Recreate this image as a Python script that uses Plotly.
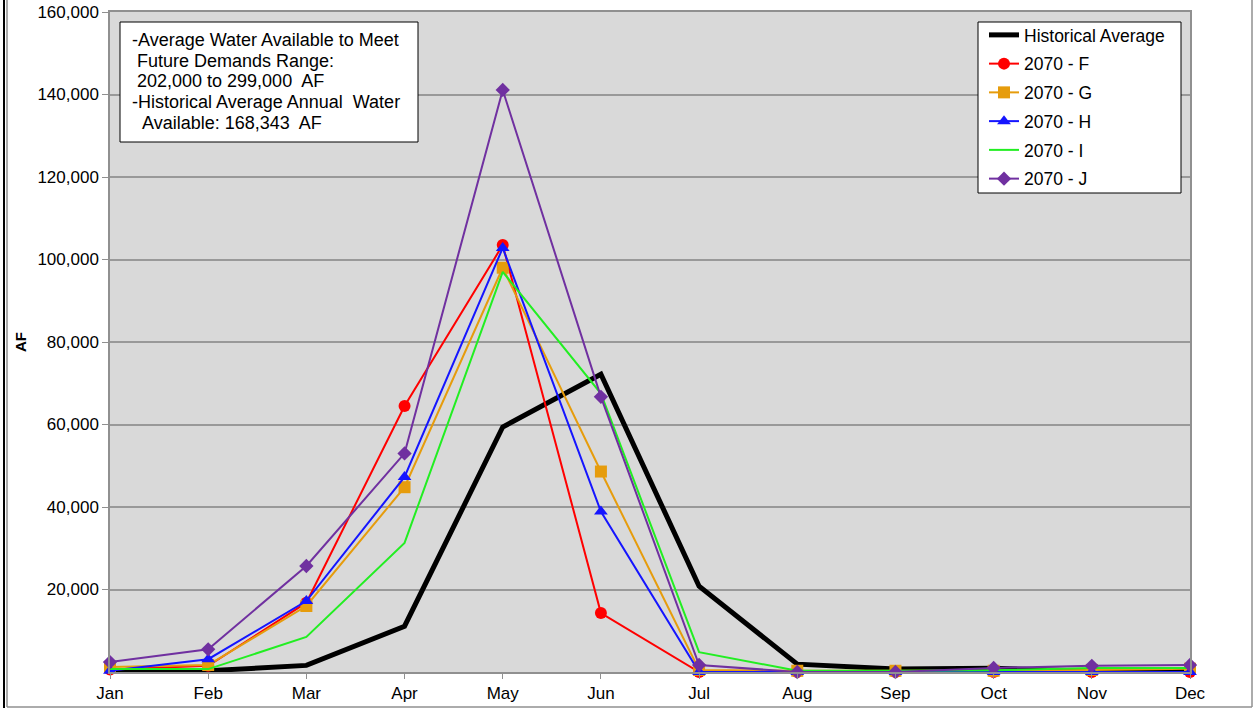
import plotly.graph_objects as go

months = ["Jan", "Feb", "Mar", "Apr", "May", "Jun", "Jul", "Aug", "Sep", "Oct", "Nov", "Dec"]
historical = [200, 300, 1600, 11100, 59400, 72200, 20800, 1900, 700, 900, 200, 200]
f_2070 = [600, 1500, 16800, 64500, 103500, 14300, 0, 0, 0, 0, 0, 0]
g_2070 = [1200, 1700, 16000, 44800, 98000, 48600, 500, 300, 300, 300, 500, 800]
h_2070 = [300, 3100, 17200, 47300, 102800, 38900, 0, 0, 0, 0, 0, 0]
i_2070 = [700, 700, 8500, 31300, 97000, 67500, 4800, 300, 300, 400, 1000, 1000]
j_2070 = [2400, 5500, 25700, 53000, 141100, 66700, 1700, 0, 0, 1000, 1500, 1700]
y_ticks = [20000, 40000, 60000, 80000, 100000, 120000, 140000, 160000]
y_tick_text = [f"{v:,}" for v in y_ticks]

note_lines = [
    "-Average Water Available to Meet",
    "\u00a0Future Demands Range:",
    "\u00a0202,000 to 299,000\u00a0 AF",
    "-Historical Average Annual\u00a0 Water",
    "\u00a0\u00a0Available: 168,343\u00a0 AF",
]

FONT = "Liberation Sans, Arial, sans-serif"

# plot area in window pixels: x 110..1190, y 12..672
def px_x(px):
    return (px - 110) / 1080

def px_y(py):
    return 1 - (py - 12) / 660

fig = go.Figure()
series = [
    ("Historical Average", historical, "black", 5, None, 0),
    ("2070 - F", f_2070, "#ff0000", 2, "circle", 12),
    ("2070 - G", g_2070, "#e69c0c", 2, "square", 12),
    ("2070 - H", h_2070, "#1515ff", 2, "triangle-up", 12),
    ("2070 - I", i_2070, "#22ee22", 2, None, 0),
    ("2070 - J", j_2070, "#7030a0", 2, "diamond", 11),
]
for i, (name, vals, color, w, sym, sz) in enumerate(series):
    kw = dict(mode="lines")
    if sym:
        kw = dict(mode="lines+markers", marker=dict(symbol=sym, size=sz, color=color))
    fig.add_trace(go.Scatter(
        x=months, y=vals, name=name, line=dict(color=color, width=w),
        cliponaxis=False, legendgroup=str(i), **kw))

fig.update_layout(
    width=1254, height=709,
    margin=dict(l=110, r=64, t=12, b=37, autoexpand=False),
    paper_bgcolor="white",
    plot_bgcolor="#d9d9d9",
    font=dict(family=FONT, size=17, color="black"),
    showlegend=True,
    legend=dict(
        x=px_x(984), y=px_y(17), xanchor="left", yanchor="top",
        bgcolor="rgba(0,0,0,0)", borderwidth=0,
        font=dict(family=FONT, size=17.5, color="black"),
        tracegroupgap=3, itemwidth=30,
    ),
    xaxis=dict(
        type="category", range=[0, 11], showgrid=False, automargin=False,
        showline=True, linecolor="#909090", linewidth=1.5, mirror=True,
        ticks="outside", ticklen=5, tickcolor="#909090",
        tickfont=dict(family=FONT, size=17), zeroline=False,
    ),
    yaxis=dict(
        range=[0, 160000], tickvals=y_ticks, ticktext=y_tick_text, automargin=False,
        showgrid=True, gridcolor="#999999", gridwidth=1.5,
        showline=True, linecolor="#909090", linewidth=1.5, mirror=True,
        ticks="outside", ticklen=6, tickcolor="#909090",
        tickfont=dict(family=FONT, size=17), zeroline=False,
        title=dict(text="<b>AF</b>", font=dict(family=FONT, size=15), standoff=7),
    ),
)

# legend box
fig.add_shape(type="rect", xref="paper", yref="paper",
              x0=px_x(978), y0=px_y(193), x1=px_x(1181), y1=px_y(22),
              line=dict(color="black", width=1), fillcolor="white", layer="above")

# note box
fig.add_shape(type="rect", xref="paper", yref="paper",
              x0=px_x(120), y0=px_y(142), x1=px_x(418), y1=px_y(22),
              line=dict(color="black", width=1), fillcolor="white", layer="above")
line_centers = [40, 61, 81, 102, 123]
for txt, cy in zip(note_lines, line_centers):
    fig.add_annotation(
        xref="paper", yref="paper", x=px_x(130), y=px_y(cy), xanchor="left", yanchor="middle",
        text=txt, showarrow=False, align="left",
        font=dict(family=FONT, size=18, color="black"),
    )

frame = [
    (px_x(4), px_y(-5), px_x(4), px_y(708), "black", 2),
    (px_x(7), px_y(-5), px_x(7), px_y(707), "#909090", 1.5),
    (px_x(7), px_y(707), px_x(1252), px_y(707), "#909090", 1.5),
    (px_x(1252), px_y(-5), px_x(1252), px_y(707), "#909090", 1.5),
]
for x0, y0, x1, y1, c, w in frame:
    fig.add_shape(type="line", xref="paper", yref="paper", x0=x0, y0=y0, x1=x1, y1=y1,
                  line=dict(color=c, width=w))

fig.write_html("out.html", config={"displayModeBar": False},
               post_script="document.body.style.margin='0';document.body.style.overflow='hidden';")
